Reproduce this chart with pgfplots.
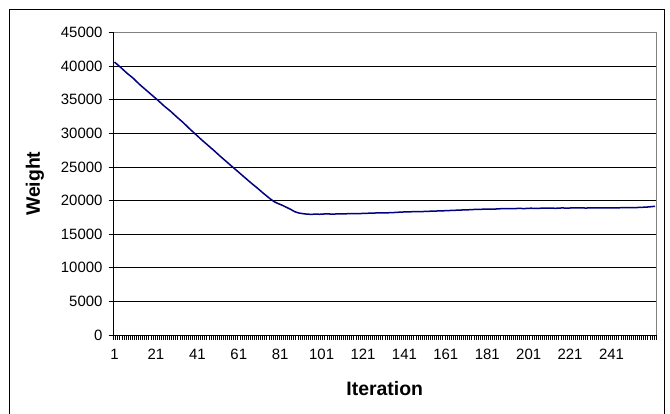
\documentclass[border=0pt]{standalone}
\usepackage{fontspec}
\setmainfont{Liberation Sans}
\usepackage{pgfplots}
\pgfplotsset{compat=1.18}
\definecolor{weightline}{RGB}{0,0,128}
\definecolor{plotborder}{RGB}{128,128,128}

\pgfplotstableread{
iter weight
1 40600
4 39800
7 38950
10 38200
13 37300
16 36500
19 35700
22 34900
25 34050
28 33300
31 32450
34 31650
37 30750
40 29900
43 29050
46 28250
49 27450
52 26600
55 25800
58 25000
61 24200
64 23400
67 22600
70 21850
73 21050
76 20300
78 19850
80 19550
82 19300
84 19000
86 18700
88 18350
90 18150
92 18050
94 17980
96 17950
98 17980
100 17960
103 18020
106 17990
109 18010
112 18030
115 18050
118 18060
121 18080
124 18120
127 18150
130 18150
133 18180
136 18220
139 18280
142 18320
145 18340
148 18350
151 18380
154 18420
157 18450
160 18480
163 18520
166 18560
169 18600
172 18630
175 18680
178 18700
181 18740
184 18720
187 18780
190 18800
193 18790
196 18830
199 18810
202 18860
205 18840
208 18870
211 18880
214 18850
217 18900
220 18880
223 18920
226 18900
229 18890
232 18930
235 18910
238 18900
241 18930
244 18920
247 18950
250 18940
253 18960
256 19000
259 19050
262 19150
}\weighttable

\begin{document}
\begin{tikzpicture}[x=1bp,y=1bp]
    \useasboundingbox (0,0) rectangle (670,413);
    % outer chart frame (bottom edge falls outside the picture)
    \draw[line width=1bp] (9.5,-2) -- (9.5,403) -- (664,403) -- (664,-2);
    \begin{axis}[
        at={(113.5bp,78bp)}, anchor=south west,
        scale only axis, width=542.5bp, height=302.5bp,
        xmin=0.5, xmax=262.5, ymin=0, ymax=45000,
        clip=false,
        axis line style={draw=none},
        tick align=outside, tick pos=left,
        xtick={1,21,...,241},
        minor xtick={0.5,1.5,...,262.5},
        major x tick style={draw=none},
        minor x tick style={black, line width=0.5bp},
        minor tick length=4.5bp,
        ytick={0,5000,...,45000},
        major y tick style={black, line width=0.8bp},
        major tick length=5bp,
        scaled y ticks=false,
        /pgf/number format/set thousands separator={},
        /pgf/number format/assume math mode=true,
        tick label style={font=\fontsize{15}{17}\selectfont},
        yticklabel style={xshift=-2.5bp},
        xticklabel style={yshift=-6bp},
        ymajorgrids,
        grid style={black, line width=0.8bp},
        xlabel={\textbf{Iteration}},
        ylabel={\textbf{Weight}},
        label style={font=\fontsize{19.5}{22}\selectfont},
        xlabel style={at={(axis description cs:0.5,-0.1785)}, anchor=center},
        ylabel style={at={(axis description cs:-0.1447,0.5)}, anchor=center},
    ]
        \addplot[weightline, line width=1.5bp, sharp plot, no markers] table[x=iter, y=weight] {\weighttable};
        \draw[plotborder, line width=1bp] (rel axis cs:0,1) -- (rel axis cs:1,1) -- (rel axis cs:1,0);
        \draw[black, line width=1bp] (rel axis cs:0,1) -- (rel axis cs:0,0) -- (rel axis cs:1,0);
    \end{axis}
\end{tikzpicture}
\end{document}
